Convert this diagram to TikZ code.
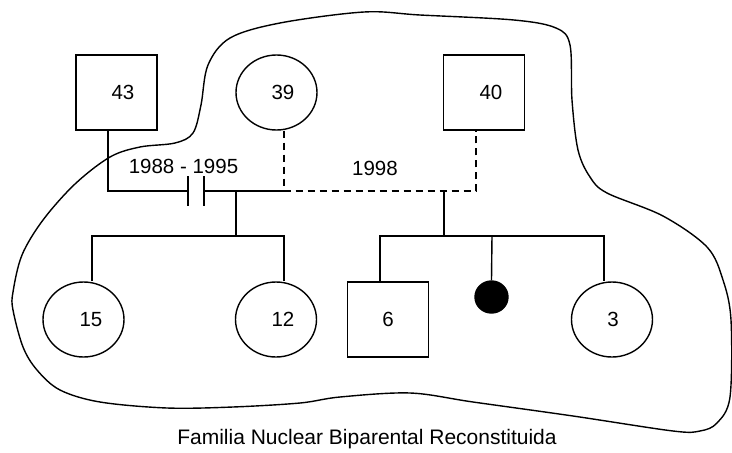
\documentclass[tikz,border=0pt]{standalone}
\usepackage{fontspec}
\setmainfont{Liberation Sans}
\usetikzlibrary{shapes.geometric}
\tikzset{
  line/.style={line width=1.4pt, black},
  male/.style={draw, line width=1.4pt, rectangle, minimum width=81pt, minimum height=75pt, inner sep=0pt},
  female/.style={draw, line width=1.4pt, ellipse, minimum width=81pt, minimum height=75pt, inner sep=0pt},
  dead/.style={draw, fill=black, line width=1.4pt, ellipse, minimum width=33pt, minimum height=32pt, inner sep=0pt},
  dashedline/.style={line width=1.4pt, dash pattern=on 7pt off 5pt},
  digits/.style={font=\fontsize{20.5}{24}\selectfont},
  caption/.style={font=\fontsize{21}{25}\selectfont}
}
\begin{document}
\begin{tikzpicture}[x=1pt, y=-1pt]
\useasboundingbox (0,0) rectangle (732,453);
% family boundary
\draw[line] plot[smooth cycle, tension=0.55] coordinates {
 (13,292) (22,255) (43,220) (75,184) (110,157) (140,147) (175,143) (193,133)
 (201,105) (208,65) (230,38) (280,23) (364,12) (420,15) (514,20) (556,28)
 (570,45) (572,100) (578,150) (590,177) (607,193) (663,216) (707,247)
 (723,280) (731,320) (730,397) (717,423) (700,431) (673,431) (573,416)
 (473,402) (410,393) (340,397) (300,403) (233,407) (167,408) (100,402)
 (60,390) (37,370) (23,347) (13,310)};
% persons
\node[male, label={[digits, xshift=6.5pt]center:43}] (p43) at (116.5,92.5) {};
\node[female, label={[digits, xshift=6.5pt]center:39}] (p39) at (276.5,92.5) {};
\node[male, label={[digits, xshift=7pt]center:40}] (p40) at (484,92.5) {};
\node[female, label={[digits, xshift=7.5pt]center:15}] (p15) at (83.5,319.5) {};
\node[female, label={[digits, xshift=7pt]center:12}] (p12) at (276,319.5) {};
\node[male, label={[digits]center:6}] (p6) at (388,319.5) {};
\node[dead] (pd) at (491.5,297) {};
\node[female, label={[digits, xshift=1pt]center:3}] (p3) at (612,319.5) {};
% junctions
\coordinate (m1) at (108,191);
\coordinate (d1) at (188,191);
\coordinate (d2) at (204,191);
\coordinate (c1) at (236,191);
\coordinate (w) at (284,191);
\coordinate (c2) at (444,191);
\coordinate (h) at (476,191);
\coordinate (b1) at (236,236);
\coordinate (b2) at (444,236);
\coordinate (l15) at (92,236);
\coordinate (l12) at (284,236);
\coordinate (l6) at (380,236);
\coordinate (ld) at (492,236);
\coordinate (l3) at (604,236);
% marriage 43 - 39 (divorced)
\draw[line] (p43.south -| m1) -- (m1) -- (d1);
\draw[line] (d2) -- (w);
\draw[line] (d1) ++(0,-15) coordinate (d1t) -- ++(0,30) coordinate (d1b);
\draw[line] (d2) ++(0,-15) coordinate (d2t) -- ++(0,30) coordinate (d2b);
% union 39 - 40
\draw[dashedline] (p39.south -| w) -- (w) -- (h) -- (p40.south -| h);
% children of 43 & 39
\draw[line] (c1) -- (b1);
\draw[line] (p15.north -| l15) -- (l15) -- (l12) -- (p12.north -| l12);
% children of 39 & 40
\draw[line] (c2) -- (b2);
\draw[line] (p6.north -| l6) -- (l6) -- (l3) -- (p3.north -| l3);
\draw[line] (ld) -- (pd.north);
% texts
\node[digits, anchor=base] (t1) at (183.5,173) {1988 - 1995};
\node[digits, anchor=base] (t2) at (375,175) {1998};
\node[caption, anchor=base] (cap) at (367,444.5) {Familia Nuclear Biparental Reconstituida};
\end{tikzpicture}
\end{document}
